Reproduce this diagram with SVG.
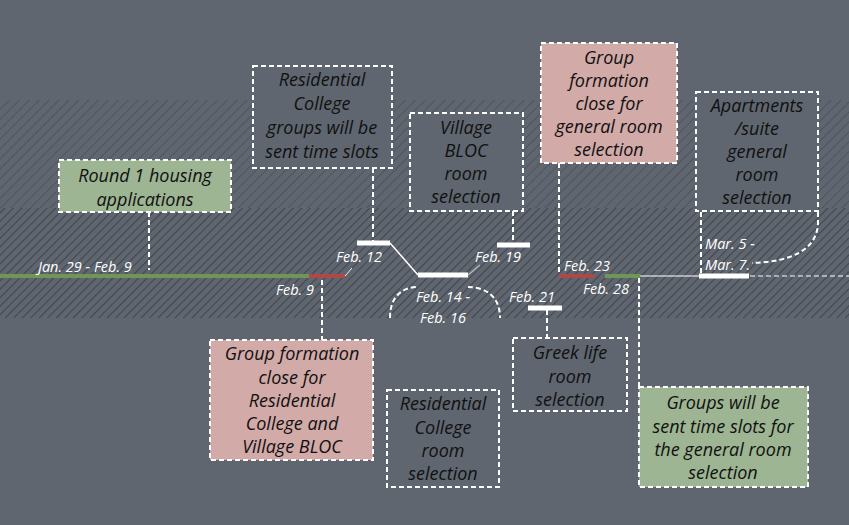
<svg xmlns="http://www.w3.org/2000/svg" width="849" height="525" viewBox="0 0 849 525">
<defs>
<pattern id="h1" width="7" height="7" patternUnits="userSpaceOnUse" patternTransform="rotate(45)"><line x1="0" y1="0" x2="0" y2="7" stroke="#4c525a" stroke-width="1.8"/></pattern>
<pattern id="h2" width="6" height="6" patternUnits="userSpaceOnUse" patternTransform="rotate(45)"><line x1="0" y1="0" x2="0" y2="6" stroke="#42474e" stroke-width="2.2"/></pattern>
<style>
.b{stroke:#fff;stroke-width:2;stroke-dasharray:5 3}
.d{fill:#5f6670}.p{fill:#d2aaa8}.g{fill:#9db592}
.t{font-family:"Open Sans",Lato,sans-serif;font-style:italic;font-size:18px;fill:#111;text-anchor:middle}
.w{font-family:"Open Sans",Lato,sans-serif;font-style:italic;font-size:14.5px;fill:#fff}
.c{stroke:#fff;stroke-width:2;stroke-dasharray:5 3;fill:none}
.bar{stroke:#fff;stroke-width:5}
</style>
</defs>
<rect width="849" height="525" fill="#5f6670"/>
<rect x="0" y="100" width="849" height="108" fill="url(#h1)"/>
<rect x="0" y="208" width="849" height="110" fill="url(#h2)"/>
<g id="connectors">
<line x1="149" y1="212" x2="149" y2="270" class="c"/>
<line x1="373" y1="168" x2="373" y2="242" class="c"/>
<line x1="513" y1="211" x2="513" y2="243" class="c"/>
<line x1="322" y1="280" x2="322" y2="340" class="c"/>
<line x1="547" y1="310" x2="547" y2="338" class="c"/>
<line x1="559" y1="163" x2="559" y2="274" class="c"/>
<line x1="639" y1="278" x2="639" y2="387" class="c"/>
<line x1="701" y1="212" x2="701" y2="274" class="c"/>
<path d="M818 212 V222 C818 250 790 262 752 263" class="c"/>
<path d="M390 318 C390 290 410 287 418 287 M468 287 C480 287 500 292 500 318" class="c"/>
<line x1="0" y1="276" x2="309" y2="276" stroke="#6f9656" stroke-width="4"/>
<line x1="309" y1="276" x2="345" y2="276" stroke="#b04848" stroke-width="4"/>
<line x1="345" y1="276" x2="352" y2="268" stroke="#fff" stroke-width="1"/>
<line x1="559" y1="276" x2="594" y2="276" stroke="#b04848" stroke-width="4"/>
<line x1="605" y1="276" x2="640" y2="276" stroke="#6f9656" stroke-width="4"/>
<line x1="640" y1="276" x2="700" y2="276" stroke="#fff" stroke-width="1.2"/>
<line x1="750" y1="276" x2="849" y2="276" stroke="#fff" stroke-width="1.2" stroke-dasharray="5 3"/>
<line x1="357" y1="243" x2="390" y2="243" class="bar"/>
<line x1="390" y1="243" x2="418" y2="275" stroke="#fff" stroke-width="1.5"/>
<line x1="418" y1="275" x2="468" y2="275" class="bar"/>
<line x1="468" y1="275" x2="480" y2="265" stroke="#bbb" stroke-width="1.2"/>
<line x1="497" y1="245" x2="530" y2="245" class="bar"/>
<line x1="528" y1="308" x2="562" y2="308" class="bar"/>
<line x1="699" y1="276" x2="749" y2="276" class="bar"/>
</g>
<g id="labels">
<text x="38" y="272" class="w">Jan. 29 - Feb. 9</text>
<text x="276" y="295" class="w">Feb. 9</text>
<text x="336" y="262" class="w">Feb. 12</text>
<text x="475" y="262" class="w">Feb. 19</text>
<text x="443" y="302" class="w" text-anchor="middle">Feb. 14 -</text>
<text x="443" y="323" class="w" text-anchor="middle">Feb. 16</text>
<text x="509" y="302" class="w">Feb. 21</text>
<text x="564" y="271" class="w">Feb. 23</text>
<text x="583" y="294" class="w">Feb. 28</text>
<text x="705" y="249" class="w">Mar. 5 -</text>
<text x="705" y="270" class="w">Mar. 7.</text>
</g>
<g id="n1"><rect x="59" y="160" width="172" height="52" class="g b"/><text class="t" x="145" y="182">Round 1 housing</text><text class="t" x="145" y="206">applications</text></g>
<g id="n2"><rect x="253" y="66" width="139" height="102" class="d b"/><text class="t" x="322" y="86">Residential</text><text class="t" x="322" y="110">College</text><text class="t" x="322" y="134">groups will be</text><text class="t" x="322" y="158">sent time slots</text></g>
<g id="n3"><rect x="410" y="113" width="113" height="98" class="d b"/><text class="t" x="466" y="134">Village</text><text class="t" x="466" y="157">BLOC</text><text class="t" x="466" y="180">room</text><text class="t" x="466" y="203">selection</text></g>
<g id="n4"><rect x="541" y="43" width="136" height="120" class="p b"/><text class="t" x="609" y="64">Group</text><text class="t" x="609" y="87">formation</text><text class="t" x="609" y="110">close for</text><text class="t" x="609" y="133">general room</text><text class="t" x="609" y="156">selection</text></g>
<g id="n5"><rect x="696" y="92" width="122" height="119" class="d b"/><text class="t" x="757" y="112">Apartments</text><text class="t" x="757" y="135">/suite</text><text class="t" x="757" y="158">general</text><text class="t" x="757" y="181">room</text><text class="t" x="757" y="204">selection</text></g>
<g id="n6"><rect x="210" y="340" width="163" height="120" class="p b"/><text class="t" x="292" y="360">Group formation</text><text class="t" x="292" y="384">close for</text><text class="t" x="292" y="407">Residential</text><text class="t" x="292" y="430">College and</text><text class="t" x="292" y="453">Village BLOC</text></g>
<g id="n7"><rect x="387" y="390" width="112" height="97" class="d b"/><text class="t" x="443" y="410">Residential</text><text class="t" x="443" y="434">College</text><text class="t" x="443" y="457">room</text><text class="t" x="443" y="480">selection</text></g>
<g id="n8"><rect x="513" y="338" width="114" height="73" class="d b"/><text class="t" x="570" y="359">Greek life</text><text class="t" x="570" y="383">room</text><text class="t" x="570" y="406">selection</text></g>
<g id="n9"><rect x="639" y="387" width="169" height="100" class="g b"/><text class="t" x="723" y="409">Groups will be</text><text class="t" x="723" y="433">sent time slots for</text><text class="t" x="723" y="456">the general room</text><text class="t" x="723" y="479">selection</text></g>
</svg>
